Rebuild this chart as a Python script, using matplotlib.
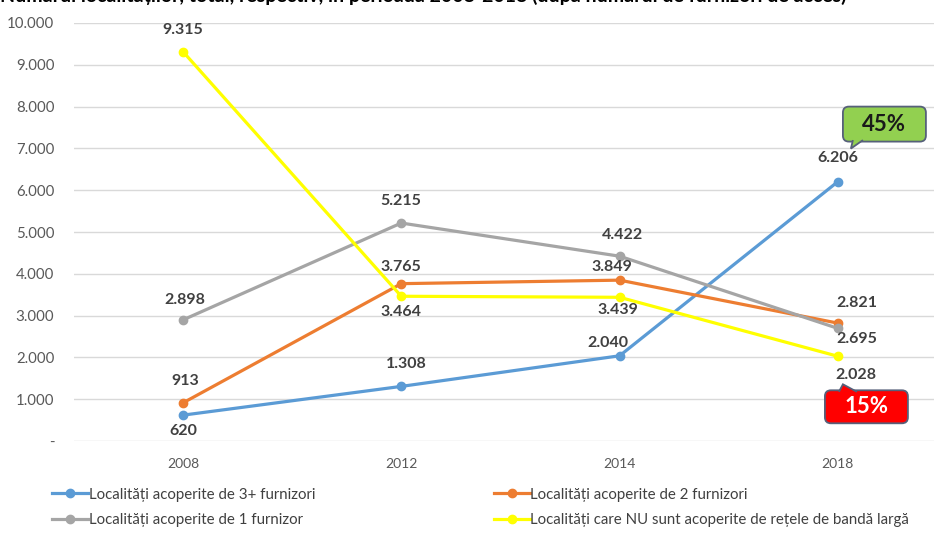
import matplotlib
matplotlib.use('Agg')
import matplotlib.pyplot as plt
import matplotlib.transforms as mt
from matplotlib.patches import FancyBboxPatch, Polygon
from matplotlib.ticker import FuncFormatter

plt.rcParams['font.family'] = ['Lato', 'DejaVu Sans']

years = ['2008', '2012', '2014', '2018']
s3 = [620, 1308, 2040, 6206]
s2 = [913, 3765, 3849, 2821]
s1 = [2898, 5215, 4422, 2695]
snu = [9315, 3464, 3439, 2028]

names = ['Localități acoperite de 3+ furnizori',
         'Localități acoperite de 2 furnizori',
         'Localități acoperite de 1 furnizor',
         'Localități care NU sunt acoperite de rețele de bandă largă']
colors = ['#5B9BD5', '#ED7D31', '#A5A5A5', '#FFFF00']
# label offsets from each point, in pixels (dx, dy)
offsets = [[(0, -16), (5, 22), (-12, 13), (0, 24)],
           [(2, 22), (0, 17), (-8, 13), (19, 20)],
           [(2, 20), (0, 22), (3, 21), (19, -11)],
           [(0, 22), (0, -16), (-2, -13), (18, -19)]]

fig = plt.figure(figsize=(9.34, 5.34), dpi=100)
ax = fig.add_axes([0.079, 0.174, 0.935, 0.783])

x = list(range(len(years)))
series = [s3, s2, s1, snu]
for vals, name, col, offs in zip(series, names, colors, offsets):
    ax.plot(x, vals, color=col, lw=2.3, marker='o', ms=6, label=name, zorder=3)
    for xi, v, (dx, dy) in zip(x, vals, offs):
        lbl = f'{v:,}'.replace(',', '.')
        ax.annotate(lbl, (xi, v), xytext=(dx * 0.72, dy * 0.72),
                    textcoords='offset points', ha='center', va='center',
                    fontsize=11.5, fontweight='bold', color='#404040', zorder=5)

ax.set_xlim(-0.5, 3.5)
ax.set_ylim(0, 10000)
ax.set_yticks(range(0, 10001, 1000))
ax.yaxis.set_major_formatter(FuncFormatter(
    lambda v, p: '-' if v == 0 else f'{int(v):,}'.replace(',', '.')))
ax.set_xticks(x)
ax.set_xticklabels(years)
ax.tick_params(length=0, labelsize=10, colors='#595959')
ax.tick_params(axis='x', pad=12)
ax.tick_params(axis='y', pad=14, labelsize=10.8)
ax.grid(axis='y', color='#D9D9D9', lw=1)
ax.set_axisbelow(True)
for sp in ax.spines.values():
    sp.set_visible(False)


def callout(xi, v, box, tri, text, fc, tc):
    # box / tri given in pixel offsets from the data point
    t = mt.Affine2D() + mt.ScaledTranslation(xi, v, ax.transData)
    bx, by, bw, bh = box
    ax.add_patch(FancyBboxPatch((bx, by), bw, bh, boxstyle='round,pad=0,rounding_size=6',
                                fc=fc, ec='#56607A', lw=1.3, transform=t,
                                clip_on=False, zorder=6))
    ax.add_patch(Polygon(tri, closed=False, fc=fc, ec='#56607A', lw=1.3,
                         transform=t, clip_on=False, zorder=7))
    ax.text(bx + bw / 2, by + bh / 2, text, transform=t, ha='center', va='center',
            fontsize=16, fontweight='bold', color=tc, zorder=8)


callout(3, s3[3], (5, 40, 83, 35), [(15, 41.5), (13, 33), (25, 41.5)], '45%', '#92D050', '#1a1a1a')
callout(3, snu[3], (-13, -67, 83, 33), [(1, -35.5), (5, -28), (19, -35.5)], '15%', '#FF0000', 'white')

fig.text(0.0, 1.008, 'Numărul localităților, total, respectiv, în perioada 2008-2018 (după numărul de furnizori de acces)',
         ha='left', va='center', fontsize=14, fontweight='bold', color='black')

h, l = ax.get_legend_handles_labels()
order = [0, 2, 1, 3]
fig.legend([h[i] for i in order], [l[i] for i in order], loc='center left',
           bbox_to_anchor=(52 / 934, 1 - 507.5 / 534), ncol=2,
           frameon=False, fontsize=10.8, handlelength=2.4, handletextpad=0.05,
           columnspacing=11.9, labelspacing=0.78, borderpad=0, borderaxespad=0,
           labelcolor='#404040')

fig.savefig('out.png', dpi=100)
